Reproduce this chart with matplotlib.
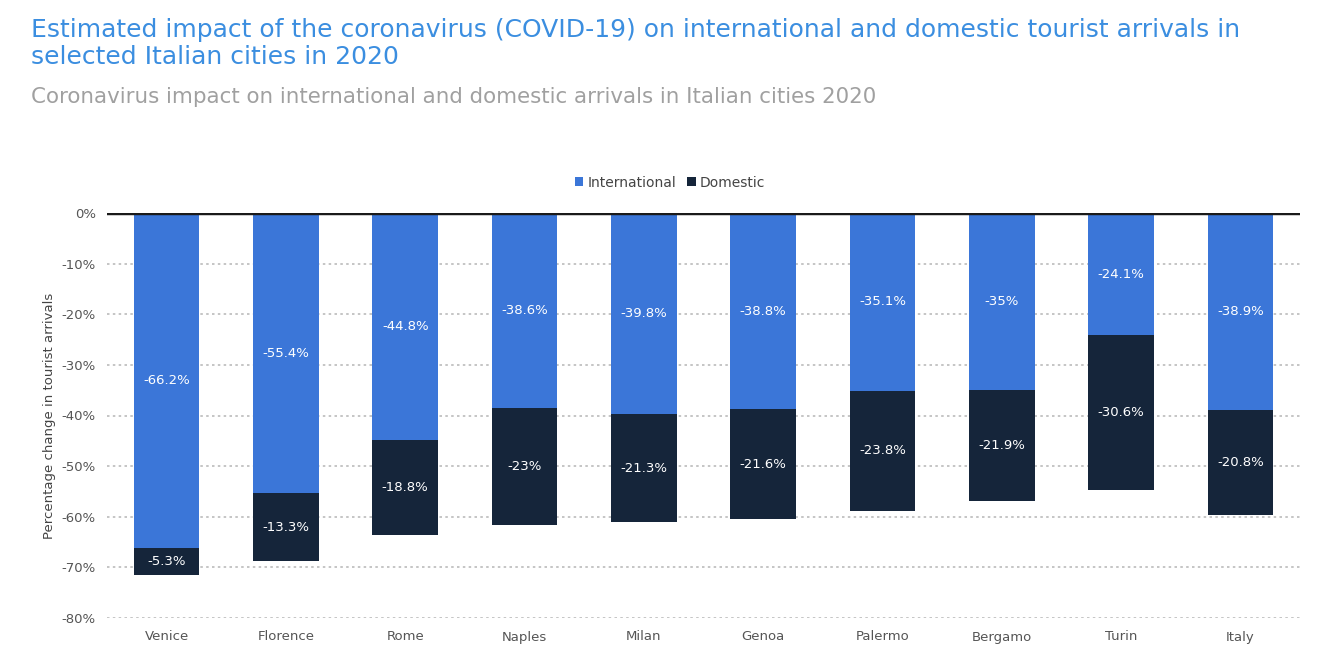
import matplotlib
matplotlib.use("Agg")
import matplotlib.pyplot as plt
import numpy as np

cities = ["Venice", "Florence", "Rome", "Naples", "Milan", "Genoa", "Palermo", "Bergamo", "Turin", "Italy"]
international = [-66.2, -55.4, -44.8, -38.6, -39.8, -38.8, -35.1, -35.0, -24.1, -38.9]
domestic = [-5.3, -13.3, -18.8, -23.0, -21.3, -21.6, -23.8, -21.9, -30.6, -20.8]
yticks = [0, -10, -20, -30, -40, -50, -60, -70, -80]

BLUE = "#3b76d8"
NAVY = "#15253a"

fig = plt.figure(figsize=(13.42, 6.64), dpi=100)
fig.patch.set_facecolor("white")
ax = fig.add_axes([107/1342, 1-618/664, (1300-107)/1342, (618-213)/664])

x = np.arange(len(cities))
w = 0.55
ax.bar(x, international, w, color=BLUE, label="International", zorder=3)
ax.bar(x, domestic, w, bottom=international, color=NAVY, label="Domestic", zorder=3)

def fmt(v):
    s = f"{v:.1f}"
    if s.endswith(".0"):
        s = s[:-2]
    return s + "%"

for xi, iv, dv in zip(x, international, domestic):
    ax.text(xi, iv/2, fmt(iv), ha="center", va="center", color="white", fontsize=9.5, zorder=4)
    ax.text(xi, iv + dv/2, fmt(dv), ha="center", va="center", color="white", fontsize=9.5, zorder=4)

ax.set_xlim(-0.5, len(cities)-0.5)
ax.set_ylim(-80, 0)
ax.set_yticks(yticks)
ax.set_yticklabels([f"{t}%" for t in yticks])
ax.set_xticks(x)
ax.set_xticklabels(cities)
ax.tick_params(axis="both", length=0, labelsize=9.5, labelcolor="#555555")
ax.tick_params(axis="x", pad=9)
ax.tick_params(axis="y", pad=8)
ax.yaxis.grid(True, linestyle=(0, (1.5, 2.0)), color="#bbbbbb", linewidth=1.2, zorder=0)
ax.axhline(0, color="#1a1a1a", linewidth=3.2, zorder=5)
for s in ax.spines.values():
    s.set_visible(False)
ax.set_ylabel("Percentage change in tourist arrivals", fontsize=9.5, color="#444444", labelpad=4)

leg = ax.legend(loc="lower center", bbox_to_anchor=(0.472, 1.027), ncol=2, frameon=False,
                fontsize=10, handlelength=0.6, handleheight=0.6, handletextpad=0.3,
                columnspacing=0.8)
for t in leg.get_texts():
    t.set_color("#444444")

fig.text(31/1342, 1-37/664, "Estimated impact of the coronavirus (COVID-19) on international and domestic tourist arrivals in",
         fontsize=18, color="#3b8ee0", va="baseline")
fig.text(31/1342, 1-64/664, "selected Italian cities in 2020",
         fontsize=18, color="#3b8ee0", va="baseline")
fig.text(31/1342, 1-103/664, "Coronavirus impact on international and domestic arrivals in Italian cities 2020",
         fontsize=15.4, color="#a0a0a0", va="baseline")

fig.savefig("out.png", dpi=100, facecolor="white")
